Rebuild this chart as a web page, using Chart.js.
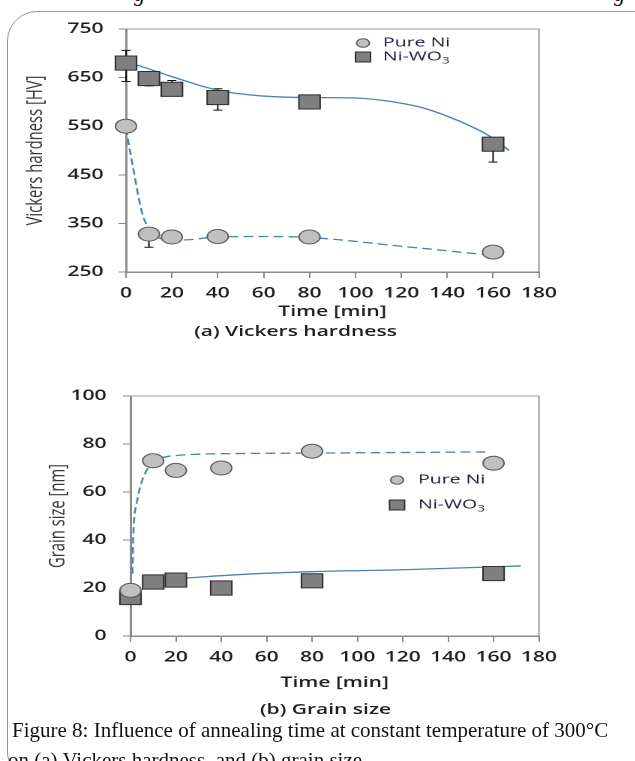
<!DOCTYPE html>
<html>
<head>
<meta charset="utf-8">
<script src="https://cdn.jsdelivr.net/npm/chart.js@4.4.1/dist/chart.umd.min.js"></script>
<style>
  html, body { margin: 0; padding: 0; background: #fff; }
  body { width: 635px; height: 761px; overflow: hidden; position: relative; font-family: "Open Sans", sans-serif; }
  #frame { position: absolute; left: 7px; top: 11px; width: 660px; height: 760px; border: 1px solid #999; border-radius: 30px 30px 20px 20px; }
  /* the figure in the paper is stretched sideways, so each panel is too */
  .panel { position: absolute; left: 0; width: 423px; height: 360px; transform: scaleX(1.5); transform-origin: 0 0; }
  .panel canvas { position: absolute; left: 0; top: 0; }
  .tag { position: absolute; font: 600 14px "Open Sans"; color: #1e1e1e; white-space: nowrap; transform: translate(-50%, -50%); }
  .caption { position: absolute; font-family: "Liberation Serif", serif; font-size: 21px; line-height: 30px; color: #111; white-space: nowrap; }
  .cut { position: absolute; top: -17px; font: italic 22px/22px "Liberation Serif", serif; color: #111; }
</style>
</head>
<body>
<div id="frame"></div>
<span class="cut" style="left:134px">g</span>
<span class="cut" style="left:614px">g</span>

<div class="panel" style="top:0px">
  <canvas id="hardness" width="423" height="322"></canvas>
  <div class="tag" style="left:197px; top:330px">(a) Vickers hardness</div>
</div>

<div class="panel" style="top:360px">
  <canvas id="grain" width="423" height="333"></canvas>
  <div class="tag" style="left:217px; top:348px">(b) Grain size</div>
</div>

<div class="caption" style="left:12px; top:715px">Figure 8: Influence of annealing time at constant temperature of 300°C</div>
<div class="caption" style="left:8px; top:745px">on (a) Vickers hardness, and (b) grain size.</div>

<script>
// annealing times [min]
const times = [0, 10, 20, 40, 80, 160];

// (a) Vickers hardness [HV]
const hvPureNi = [550, 328, 322, 323, 322, 291];
const hvNiWO3 = [680, 648, 626, 609, 600, 513];
const hvPureNiErrUp = [0, 10, 0, 0, 0, 0];
const hvPureNiErrDown = [0, 27, 0, 0, 0, 0];
const hvNiWO3ErrUp = [26, 12, 18, 18, 14, 0];
const hvNiWO3ErrDown = [38, 15, 12, 26, 6, 37];

// trend lines as drawn in (a)
const hvPureNiFitX = [0, 3, 7, 11, 16, 25, 40, 60, 80, 120, 158];
const hvPureNiFitY = [545, 467, 372, 332, 318, 316, 322, 323, 321, 303, 285];
const hvNiWO3FitX = [0, 6, 20, 40, 60, 80, 100, 115, 130, 145, 158, 167];
const hvNiWO3FitY = [682, 674, 652, 624, 612, 609, 608, 601, 587, 561, 531, 500];

// (b) grain size [nm]
const gsPureNi = [19, 73, 69, 70, 77, 72];
const gsNiWO3 = [16, 22.5, 23.3, 20, 23, 26];

// trend lines as drawn in (b)
const gsPureNiFitX = [0.9, 1.2, 2.7, 5.6, 11.5, 23, 45, 80, 157];
const gsPureNiFitY = [26, 41, 55, 66, 73, 75.4, 76, 76.2, 76.7];
const gsNiWO3FitX = [10, 20, 52, 80, 120, 172];
const gsNiWO3FitY = [22.9, 23.8, 25.8, 26.8, 27.6, 29.2];

const seriesNames = ['Pure Ni', 'Ni-WO₃'];

const pts = (xs, ys) => xs.map((x, i) => ({ x: x, y: ys[i] }));
const lineBlue = '#4f7fb5';
const tickFont = { family: 'Open Sans', size: 14, weight: '600' };

// draws error bars under the markers
const errorBars = {
  id: 'errorBars',
  beforeDatasetsDraw(chart) {
    const { ctx, scales: { x, y } } = chart;
    ctx.save();
    ctx.strokeStyle = '#111';
    ctx.lineWidth = 1;
    chart.data.datasets.forEach(ds => {
      if (!ds.errUp) return;
      ds.data.forEach((p, i) => {
        const px = x.getPixelForValue(p.x);
        const py = y.getPixelForValue(p.y);
        [[ds.errUp[i], 1], [ds.errDown[i], -1]].forEach(([e, s]) => {
          if (!e) return;
          const ey = y.getPixelForValue(p.y + s * e);
          ctx.beginPath();
          ctx.moveTo(px, py); ctx.lineTo(px, ey);
          ctx.moveTo(px - 3, ey); ctx.lineTo(px + 3, ey);
          ctx.stroke();
        });
      });
    });
    ctx.restore();
  }
};

// top and right edges of the plot box
const plotBox = {
  id: 'plotBox',
  beforeDatasetsDraw(chart) {
    const { ctx, chartArea: a } = chart;
    ctx.save();
    ctx.strokeStyle = '#9a9a9a';
    ctx.lineWidth = 1;
    ctx.beginPath();
    ctx.moveTo(a.left, a.top); ctx.lineTo(a.right, a.top); ctx.lineTo(a.right, a.bottom);
    ctx.stroke();
    ctx.restore();
  }
};

// legend placed inside the plot, subscript digits drawn small
const insetLegend = {
  id: 'insetLegend',
  afterDatasetsDraw(chart, args, opts) {
    const { ctx, chartArea: a } = chart;
    const subs = { '₀': '0', '₁': '1', '₂': '2', '₃': '3', '₄': '4' };
    ctx.save();
    ctx.textBaseline = 'middle';
    chart.data.datasets.filter(d => d.inLegend).forEach((ds, i) => {
      const mx = a.left + opts.x;
      const my = a.top + opts.y + i * opts.gap;
      ctx.fillStyle = ds.backgroundColor;
      ctx.strokeStyle = ds.borderColor;
      ctx.lineWidth = 1;
      ctx.beginPath();
      if (ds.pointStyle === 'circle') ctx.arc(mx, my, 4.3, 0, Math.PI * 2);
      else ctx.rect(mx - 5, my - 5, 10, 10);
      ctx.fill(); ctx.stroke();
      ctx.fillStyle = '#1d1d3a';
      let tx = mx + opts.textGap;
      for (const ch of ds.label) {
        const sub = subs[ch];
        ctx.font = sub ? '9px "Open Sans"' : '13px "Open Sans"';
        const t = sub || ch;
        ctx.fillText(t, tx, sub ? my + 4 : my);
        tx += ctx.measureText(t).width;
      }
    });
    ctx.restore();
  }
};

function makeChart(id, cfg) {
  const markerSets = [
    { label: seriesNames[0], data: pts(times, cfg.pure), pointStyle: 'circle', radius: 7,
      backgroundColor: '#c0c0c0', borderColor: '#5a5a5a', errUp: cfg.pureUp, errDown: cfg.pureDown },
    { label: seriesNames[1], data: pts(times, cfg.wo3), pointStyle: 'rect', radius: 10,
      backgroundColor: '#7f7f7f', borderColor: '#2e2e2e', errUp: cfg.wo3Up, errDown: cfg.wo3Down }
  ].map(d => Object.assign(d, {
    type: 'scatter', showLine: false, order: 0, inLegend: true, clip: false,
    pointRadius: d.radius, pointHoverRadius: d.radius, borderWidth: 1
  }));

  const fitSets = [
    { data: pts(cfg.pureFitX, cfg.pureFitY), borderDash: [6.5, 3.5] },
    { data: pts(cfg.wo3FitX, cfg.wo3FitY), borderDash: [] }
  ].map(d => Object.assign(d, {
    type: 'line', label: '', order: 1, pointRadius: 0, borderColor: lineBlue,
    borderWidth: 1.3, cubicInterpolationMode: 'monotone', fill: false, clip: false
  }));

  return new Chart(document.getElementById(id), {
    type: 'scatter',
    data: { datasets: markerSets.concat(fitSets) },
    plugins: [plotBox, errorBars, insetLegend],
    options: {
      responsive: false,
      animation: false,
      devicePixelRatio: 2,
      layout: { padding: { left: 0, right: 63.7, top: cfg.top, bottom: 0 } },
      plugins: {
        legend: { display: false },
        tooltip: { enabled: false },
        insetLegend: cfg.legend
      },
      scales: {
        x: {
          type: 'linear', min: 0, max: 180,
          ticks: { stepSize: 20, padding: 7, color: '#1e1e1e', font: tickFont },
          grid: { drawOnChartArea: false, tickLength: 6, color: '#888' },
          border: { color: '#8a8a8a', width: 1.5 },
          title: { display: true, text: 'Time [min]', color: '#1e1e1e', font: tickFont, padding: { top: 0, bottom: 1.6 } },
          afterFit: s => { s.height = cfg.xHeight; }
        },
        y: {
          min: cfg.yMin, max: cfg.yMax,
          ticks: { stepSize: cfg.yStep, padding: cfg.yPad, color: '#1e1e1e', font: tickFont },
          grid: { drawOnChartArea: false, tickLength: 5, color: '#888' },
          border: { color: '#8a8a8a', width: 1.5 },
          title: { display: true, text: cfg.yTitle, color: '#363636',
                   font: { family: 'Open Sans', size: 14.8 }, padding: { top: cfg.yTitlePad, bottom: 0 } },
          afterFit: s => { s.width = cfg.yWidth; }
        }
      }
    }
  });
}

makeChart('hardness', {
  pure: hvPureNi, wo3: hvNiWO3,
  pureUp: hvPureNiErrUp, pureDown: hvPureNiErrDown, wo3Up: hvNiWO3ErrUp, wo3Down: hvNiWO3ErrDown,
  pureFitX: hvPureNiFitX, pureFitY: hvPureNiFitY, wo3FitX: hvNiWO3FitX, wo3FitY: hvNiWO3FitY,
  yMin: 250, yMax: 750, yStep: 100, yTitle: 'Vickers hardness [HV]',
  top: 29, xHeight: 50, yWidth: 84, yPad: 10, yTitlePad: 15,
  legend: { x: 158, y: 14, gap: 14, textGap: 13.3 }
});

makeChart('grain', {
  pure: gsPureNi, wo3: gsNiWO3,
  pureFitX: gsPureNiFitX, pureFitY: gsPureNiFitY, wo3FitX: gsNiWO3FitX, wo3FitY: gsNiWO3FitY,
  yMin: 0, yMax: 100, yStep: 20, yTitle: 'Grain size [nm]',
  top: 36, xHeight: 57, yWidth: 87, yPad: 11, yTitlePad: 30,
  legend: { x: 177.7, y: 84, gap: 25, textGap: 14 }
});
</script>
</body>
</html>
